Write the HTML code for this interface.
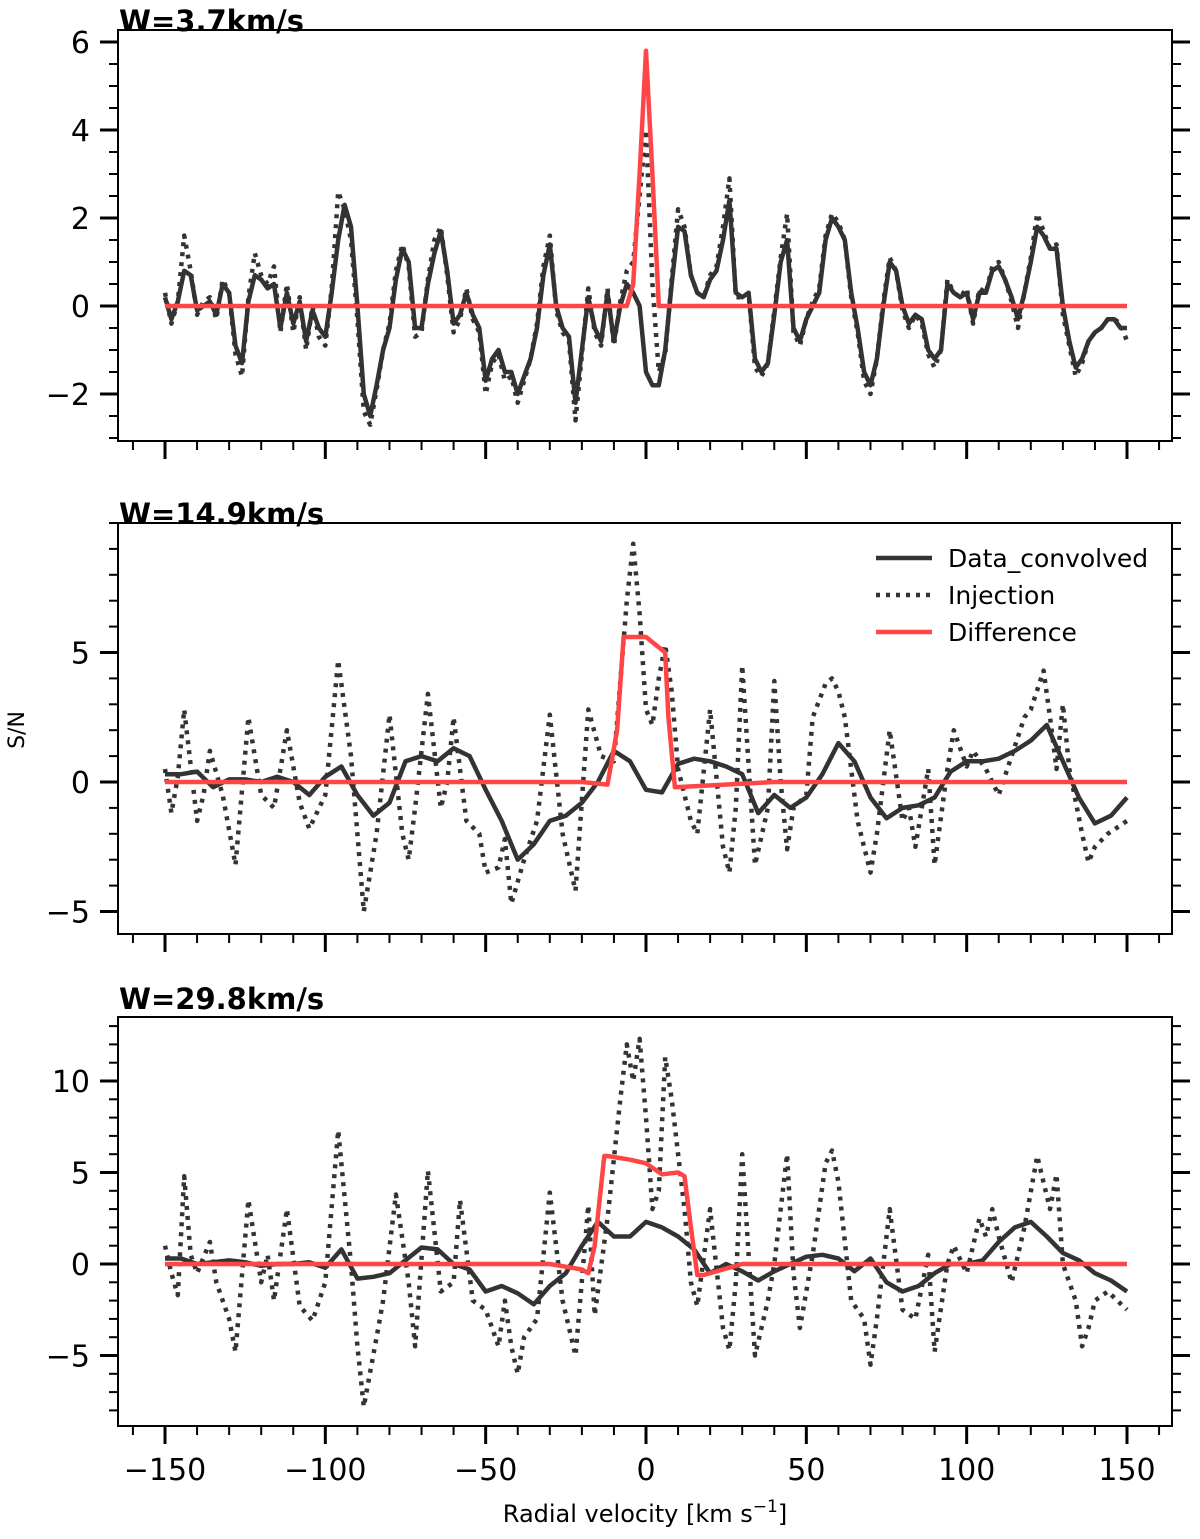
<!DOCTYPE html>
<html><head><meta charset="utf-8"><style>
body{margin:0;background:#fff}
svg{display:block;font-family:"DejaVu Sans","Liberation Sans",sans-serif}
</style></head><body>
<svg id="chart" width="1200" height="1539"></svg>
<script>
// Panel 1 (W=3.7km/s)
const p1DataX=[-150,-148,-146,-144,-142,-140,-138,-136,-134,-132,-130,-128,-126,-124,-122,-120,-118,-116,-114,-112,-110,-108,-106,-104,-102,-100,-98,-96,-94,-92,-90,-88,-86,-84,-82,-80,-78,-76,-74,-72,-70,-68,-66,-64,-62,-60,-58,-56,-54,-52,-50,-48,-46,-44,-42,-40,-38,-36,-34,-32,-30,-28,-26,-24,-22,-20,-18,-16,-14,-12,-10,-8,-6,-4,-2,0,2,4,6,8,10,12,14,16,18,20,22,24,26,28,30,32,34,36,38,40,42,44,46,48,50,52,54,56,58,60,62,64,66,68,70,72,74,76,78,80,82,84,86,88,90,92,94,96,98,100,102,104,106,108,110,112,114,116,118,120,122,124,126,128,130,132,134,136,138,140,142,144,146,148,150];
const p1DataY=[0.2,-0.3,0.1,0.8,0.7,-0.1,0,0.1,-0.2,0.5,0.3,-0.9,-1.3,0.1,0.7,0.6,0.4,0.5,-0.5,0.3,-0.4,0.1,-0.8,-0.1,-0.5,-0.7,0.3,1.5,2.3,1.8,0,-2,-2.5,-1.8,-1,-0.5,0.6,1.3,1,-0.5,-0.5,0.5,1.2,1.7,0.8,-0.4,-0.2,0.3,-0.2,-0.5,-1.7,-1.2,-1.0,-1.5,-1.5,-2,-1.6,-1.2,-0.5,0.7,1.4,0,-0.5,-0.7,-2.2,-1,0.2,-0.5,-0.8,0.3,-0.8,0,0.5,0.3,0,-1.5,-1.8,-1.8,-1,0.5,1.8,1.7,0.7,0.3,0.2,0.6,0.8,1.5,2.4,0.3,0.2,0.3,-1.2,-1.5,-1.3,-0.2,1.0,1.5,-0.5,-0.8,-0.3,0,0.3,1.5,2.0,1.8,1.5,0.3,-0.5,-1.5,-1.8,-1.2,0,1.0,0.8,0,-0.4,-0.2,-0.3,-1.0,-1.2,-1.0,0.5,0.3,0.2,0.3,-0.3,0.3,0.3,0.8,0.9,0.6,0.2,-0.3,0.3,1.0,1.8,1.6,1.3,1.3,0,-0.8,-1.4,-1.2,-0.8,-0.6,-0.5,-0.3,-0.3,-0.5,-0.5];
const p1InjX=p1DataX;
const p1InjY=[0.3,-0.4,0.1,1.6,0.8,-0.2,0.1,0.2,-0.3,0.6,0.3,-1.1,-1.6,0.2,1.2,0.7,0.5,0.9,-0.6,0.5,-0.6,0.2,-1.0,0,-0.7,-0.9,0.4,2.6,2.2,1.5,-0.3,-2.4,-2.7,-1.9,-1,-0.4,0.8,1.4,0.9,-0.7,-0.6,0.6,1.5,1.8,0.7,-0.6,-0.3,0.4,-0.3,-0.6,-2.0,-1.3,-1.1,-1.7,-1.6,-2.2,-1.7,-1.2,-0.4,0.9,1.6,-0.1,-0.6,-0.8,-2.6,-1.1,0.4,-0.6,-0.9,0.4,-0.9,0.1,0.8,1.0,2.5,4.0,0.5,-1.5,-1.1,0.6,2.2,1.8,0.7,0.3,0.2,0.7,0.9,1.8,2.9,0.2,0.2,0.3,-1.4,-1.6,-1.3,-0.1,1.1,2.1,-0.6,-0.9,-0.3,0.1,0.4,1.6,2.1,1.9,1.5,0.2,-0.6,-1.7,-2.0,-1.2,0.1,1.1,0.8,-0.1,-0.5,-0.2,-0.4,-1.1,-1.4,-1.0,0.6,0.3,0.2,0.4,-0.4,0.4,0.3,0.9,1.0,0.6,0.1,-0.5,0.3,1.1,2.1,1.7,1.3,1.4,-0.2,-0.9,-1.6,-1.3,-0.8,-0.6,-0.5,-0.3,-0.3,-0.4,-0.8];
const p1DiffX=[-150,-6,-4,-2,0,2,4,6,150];
const p1DiffY=[0,0,0.5,3,5.8,3,0,0,0];
// Panel 2 (W=14.9km/s)
const p2DataX=[-150,-145,-140,-135,-130,-125,-120,-115,-110,-105,-100,-95,-90,-85,-80,-75,-70,-65,-60,-55,-50,-45,-40,-35,-30,-25,-20,-15,-10,-5,0,5,10,15,20,25,30,35,40,45,50,55,60,65,70,75,80,85,90,95,100,105,110,115,120,125,130,135,140,145,150];
const p2DataY=[0.3,0.3,0.4,-0.2,0.1,0.1,0,0.2,0,-0.5,0.2,0.6,-0.5,-1.3,-0.8,0.8,1.0,0.8,1.3,1.0,-0.3,-1.5,-3.0,-2.4,-1.5,-1.3,-0.8,0,1.2,0.8,-0.3,-0.4,0.7,0.9,0.8,0.6,0.3,-1.2,-0.5,-1.0,-0.6,0.3,1.5,0.8,-0.6,-1.4,-1.0,-0.9,-0.6,0.4,0.8,0.8,0.9,1.2,1.6,2.2,0.8,-0.6,-1.6,-1.3,-0.6];
const p2InjX=[-150,-148,-146,-144,-140,-138,-136,-132,-128,-124,-120,-116,-112,-108,-105,-100,-96,-92,-88,-84,-80,-76,-74,-72,-68,-64,-62,-60,-56,-52,-50,-46,-44,-42,-38,-34,-30,-26,-22,-18,-14,-10,-6,-4,-2,0,2,4,6,8,10,14,16,20,24,26,28,30,34,38,40,42,44,46,50,52,56,58,60,62,66,70,72,76,80,82,84,88,90,94,96,100,102,106,110,114,118,120,124,126,128,130,132,136,138,140,144,150];
const p2InjY=[0.5,-1.2,0.2,2.8,-1.5,-0.5,1.2,-0.5,-3.2,2.5,-0.5,-1,2.0,-0.8,-1.8,-0.5,4.7,1,-5.0,-2,2.6,-2,-3,-1,3.4,-1,0,2.5,-1.5,-2,-3.5,-3.3,-2.2,-4.7,-3,-1.5,2.6,-2,-4.2,2.8,1.0,0.8,7.0,9.2,6.5,2.8,2.2,4.0,5.3,3.5,0.5,-1.5,-2.0,2.8,-2.5,-3.5,-1,4.5,-3.2,-1,3.9,0,-2.6,-1,-0.5,2.5,3.8,4.0,3.5,2.5,-1.5,-3.5,-2,2.0,-1.5,-1.0,-2.5,0.5,-3.2,0.5,2.0,0.6,1.2,0.5,-0.5,1.0,2.5,2.8,4.3,2.5,0.5,3.0,0.5,-2.0,-3.1,-2.5,-2,-1.5];
const p2DiffX=[-150,-60,-20,-12,-9,-7,0,6,7,9,40,150];
const p2DiffY=[0,0,0,-0.1,2,5.6,5.6,5.0,2.5,-0.2,0,0];
// Panel 3 (W=29.8km/s)
const p3DataX=p2DataX;
const p3DataY=[0.3,0.3,0,0.1,0.2,0.1,-0.1,0,0,0.1,-0.2,0.8,-0.8,-0.7,-0.5,0.2,0.9,0.8,0,-0.3,-1.5,-1.2,-1.6,-2.2,-1.2,-0.5,1,2.3,1.5,1.5,2.3,2.0,1.5,0.8,-0.5,0,-0.4,-0.9,-0.4,0,0.4,0.5,0.3,-0.4,0.3,-1.0,-1.5,-1.2,-0.5,0,0,0.2,1.2,2.0,2.3,1.5,0.6,0.2,-0.5,-0.9,-1.5];
const p3InjX=[-150,-148,-146,-144,-142,-140,-136,-134,-130,-128,-124,-120,-118,-116,-112,-108,-104,-100,-96,-92,-90,-88,-84,-82,-78,-74,-72,-68,-64,-60,-58,-54,-50,-46,-44,-42,-40,-38,-34,-30,-26,-22,-18,-16,-12,-8,-6,-4,-2,0,2,4,6,8,10,12,14,16,20,24,26,28,30,34,38,40,44,46,48,52,56,58,60,64,68,70,72,76,80,84,88,90,94,96,100,104,106,108,110,114,118,122,126,128,130,134,136,138,140,144,150];
const p3InjY=[1,-0.5,-1.7,4.8,0.5,-0.5,1.2,-1,-3,-4.8,3.5,-1,0.5,-2,3,-2.3,-3.1,-1,7.3,0,-4.5,-7.8,-4,-2,3.8,-1,-4.5,5.1,-1.5,-1,3.5,-2,-2.5,-4.5,-2,-4.5,-6.0,-4,-3,3.9,-2,-5,3.2,-2.8,2.5,9,12,10,12.3,8,3,4,11.3,9,6,3,-1,-2.3,3,-3.5,-4.7,-1,6,-5,-2,0,6.0,-0.5,-3.5,0.5,5.5,6.2,4.5,-2,-3,-5.5,-3,3,-2.5,-3,0.5,-4.8,0,1,-0.5,2.5,1.5,3.0,1.5,-1,2,5.9,3,4.9,0,-2,-4.5,-3.5,-2,-1.5,-2.5];
const p3DiffX=[-150,-50,-30,-20,-18,-16,-13,-12,-5,0,5,10,12,14,16,18,30,150];
const p3DiffY=[0,0,0,-0.3,-0.5,1,5.9,5.9,5.7,5.5,4.9,5,4.8,2,-0.6,-0.6,0,0];

const xTicks=[-150,-100,-50,0,50,100,150];
const p1Ticks=[-2,0,2,4,6], p2Ticks=[-5,0,5], p3Ticks=[-5,0,5,10];

const NS="http://www.w3.org/2000/svg";
const svg=document.getElementById('chart');
function mk(tag,attrs,parent){const e=document.createElementNS(NS,tag);for(const k in attrs)e.setAttribute(k,attrs[k]);(parent||svg).appendChild(e);return e;}
const X0=118,X1=1172;
const sx=v=>165+(v+150)*(962/300);
function fmt(v){return v<0?'\u2212'+(-v):''+v;}

function panel(cfg){
  const g=mk('g',{});
  
  
  const sy=v=>cfg.y0+(cfg.pxPer*(-v));
  const clipId='c'+cfg.name;
  const cp=mk('clipPath',{id:clipId},g);
  mk('rect',{x:X0,y:cfg.top,width:X1-X0,height:cfg.bot-cfg.top},cp);
  const lines=mk('g',{'clip-path':'url(#'+clipId+')'},g);
  function path(xs,ys,style,name){
    let d='';for(let i=0;i<xs.length;i++)d+=(i?'L':'M')+sx(xs[i]).toFixed(1)+','+sy(ys[i]).toFixed(1);
    const p=mk('path',Object.assign({d:d,fill:'none','stroke-linejoin':'round'},style),lines);
    
    
  }
  path(cfg.injX,cfg.injY,{stroke:'#333','stroke-width':4.5,'stroke-dasharray':'4,6'},'injection-line');
  path(cfg.dataX,cfg.dataY,{stroke:'#333','stroke-width':4.5},'data-convolved-line');
  path(cfg.diffX,cfg.diffY,{stroke:'#ff4646','stroke-width':4.5},'difference-line');
  const fr=mk('rect',{x:X0,y:cfg.top,width:X1-X0,height:cfg.bot-cfg.top,fill:'none',stroke:'#000','stroke-width':2},g);
  
  
  for(let v=-160;v<=160;v+=10){
    const maj=v%50===0&&Math.abs(v)<=150;
    mk('line',{x1:sx(v),x2:sx(v),y1:cfg.bot,y2:cfg.bot+(maj?18:9),stroke:'#000','stroke-width':maj?3:2},g);
  }
  if(cfg.xlabels){
    for(const v of xTicks){const t=mk('text',{x:sx(v),y:cfg.bot+54,'text-anchor':'middle','font-size':30},g);t.textContent=fmt(v);
      }
  }
  const ymax=(cfg.y0-cfg.top)/cfg.pxPer;
  const start=Math.ceil((-(cfg.bot-cfg.y0)/cfg.pxPer)/cfg.minor)*cfg.minor;
  for(let v=start;v<=ymax+1e-9;v+=cfg.minor){
    const vv=Math.round(v*100)/100;
    const maj=cfg.ticks.includes(vv);
    const y=sy(vv);
    mk('line',{x1:X0,x2:X0-(maj?18:9),y1:y,y2:y,stroke:'#000','stroke-width':maj?3:2},g);
    mk('line',{x1:X1,x2:X1+(maj?18:9),y1:y,y2:y,stroke:'#000','stroke-width':maj?3:2},g);
  }
  for(const v of cfg.ticks){const t=mk('text',{x:90,y:sy(v)+11,'text-anchor':'end','font-size':30},g);t.textContent=fmt(v);
    }
  const tt=mk('text',{x:119,y:cfg.titleY,'font-size':29,'font-weight':'bold'},g);tt.textContent=cfg.title;
  
}
panel({name:'panel-w3p7',top:30,bot:441,y0:306,pxPer:44,minor:0.5,ticks:p1Ticks,title:'W=3.7km/s',titleY:31,
  dataX:p1DataX,dataY:p1DataY,injX:p1InjX,injY:p1InjY,diffX:p1DiffX,diffY:p1DiffY,xlabels:false});
panel({name:'panel-w14p9',top:523,bot:934,y0:782,pxPer:25.9,minor:1,ticks:p2Ticks,title:'W=14.9km/s',titleY:524,
  dataX:p2DataX,dataY:p2DataY,injX:p2InjX,injY:p2InjY,diffX:p2DiffX,diffY:p2DiffY,xlabels:false});
panel({name:'panel-w29p8',top:1017,bot:1426,y0:1264,pxPer:18.3,minor:1,ticks:p3Ticks,title:'W=29.8km/s',titleY:1009,
  dataX:p3DataX,dataY:p3DataY,injX:p3InjX,injY:p3InjY,diffX:p3DiffX,diffY:p3DiffY,xlabels:true});
</script>
<script>
(function(){
const NS="http://www.w3.org/2000/svg";const svg=document.getElementById('chart');
function mk(tag,attrs){const e=document.createElementNS(NS,tag);for(const k in attrs)e.setAttribute(k,attrs[k]);svg.appendChild(e);return e;}
const lg=[['Data_convolved',{}],['Injection',{'stroke-dasharray':'4,6'}],['Difference',{}]];
const cols=['#333','#333','#ff4646'];
lg.forEach((l,i)=>{
  const y=558+i*37;
  const ln=mk('line',Object.assign({x1:876,x2:932,y1:y,y2:y,stroke:cols[i],'stroke-width':4.5},l[1]));
  
  
  const t=mk('text',{x:948,y:y+9,'font-size':25});t.textContent=l[0];
  
  
});
const yl=mk('text',{x:24,y:730,'font-size':22,'text-anchor':'middle',transform:'rotate(-90 24 730)'});yl.textContent='S/N';


const xl=mk('text',{x:645,y:1522,'font-size':24,'text-anchor':'middle'});
xl.innerHTML='Radial velocity [km s<tspan dy="-10" font-size="17">\u22121</tspan><tspan dy="10">]</tspan>';


})();
</script>
</body></html>
